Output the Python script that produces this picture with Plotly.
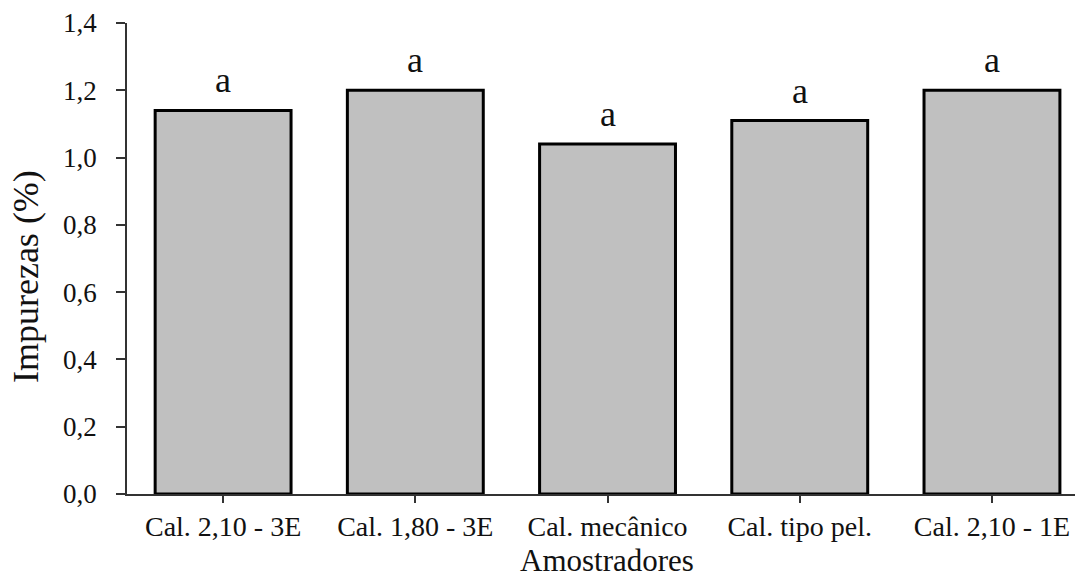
import plotly.graph_objects as go

categories = ["Cal. 2,10 - 3E", "Cal. 1,80 - 3E", "Cal. mecânico", "Cal. tipo pel.", "Cal. 2,10 - 1E"]
values = [1.14, 1.20, 1.04, 1.11, 1.20]
letters = ["a", "a", "a", "a", "a"]
y_ticks = [0.0, 0.2, 0.4, 0.6, 0.8, 1.0, 1.2, 1.4]

FONT = "Liberation Serif, Times New Roman, serif"

fig = go.Figure()
fig.add_trace(go.Bar(
    x=list(range(len(categories))),
    y=values,
    width=0.707,
    marker=dict(color="#c0c0c0", line=dict(color="black", width=3)),
    showlegend=False,
    hoverinfo="skip",
))

for i, (v, t) in enumerate(zip(values, letters)):
    fig.add_annotation(x=i, y=v, text=t, showarrow=False, xref="x", yref="y",
                       yanchor="bottom", yshift=8,
                       font=dict(family=FONT, size=36, color="#111"))

fig.add_annotation(x=-0.1065, y=0.4607, xref="paper", yref="paper", text="Impurezas (%)",
                   textangle=-90, showarrow=False, xanchor="center", yanchor="middle",
                   font=dict(family=FONT, size=36, color="#111"))
fig.add_annotation(x=0.506, y=-0.142, xref="paper", yref="paper", text="Amostradores",
                   showarrow=False, xanchor="center", yanchor="middle",
                   font=dict(family=FONT, size=31, color="#111"))

fig.update_layout(
    width=1075, height=578,
    margin=dict(l=127, r=0, t=23, b=84),
    paper_bgcolor="white", plot_bgcolor="white",
    separators=",.",
    xaxis=dict(
        range=[-0.5, 4.432],
        tickmode="array", tickvals=list(range(len(categories))), ticktext=categories,
        showline=True, linecolor="#333", linewidth=1.5,
        ticks="outside", ticklen=7, tickwidth=1.5, tickcolor="#333",
        showgrid=False, zeroline=False,
        tickfont=dict(family=FONT, size=28, color="#111"),
        ticklabelstandoff=0,
    ),
    yaxis=dict(
        range=[0, 1.4],
        tickmode="array", tickvals=y_ticks, tickformat=".1f",
        showline=True, linecolor="#333", linewidth=1.5,
        ticks="outside", ticklen=9, tickwidth=1.5, tickcolor="#333",
        showgrid=False, zeroline=False,
        tickfont=dict(family=FONT, size=27, color="#111"),
        ticklabelstandoff=14,
    ),
)

fig.write_html("out.html")
